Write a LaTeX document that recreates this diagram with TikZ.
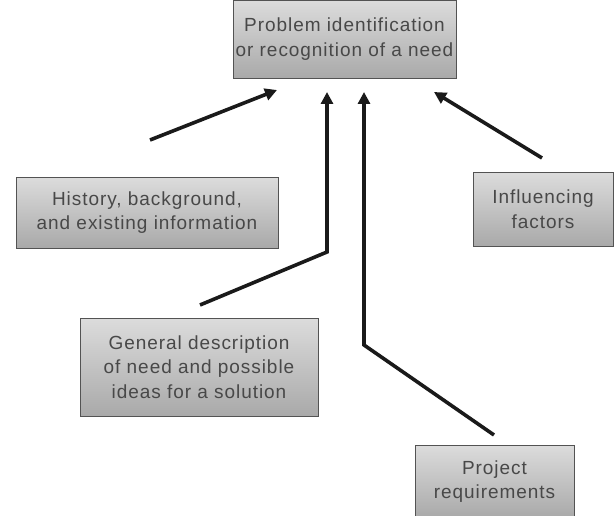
\documentclass[tikz,border=0pt]{standalone}
\usepackage{fontspec}
\setmainfont{Liberation Sans}[LetterSpace=5]
\usetikzlibrary{arrows.meta,positioning,calc}
\definecolor{Ink}{HTML}{1A1A1A}
\definecolor{BoxTop}{HTML}{DCDCDC}
\definecolor{BoxBot}{HTML}{A9A9A9}
\tikzset{
  stepbox/.style={draw=Ink!75,line width=0.6pt,top color=BoxTop,bottom color=BoxBot,
    align=center,text=Ink!80,inner sep=0pt,font=\fontsize{19}{24.5}\selectfont},
  flow/.style={draw=Ink,line width=3.6pt,-{Triangle[length=12pt,width=12pt]}}
}

\begin{document}
\begin{tikzpicture}[x=1pt,y=-1pt]
\useasboundingbox (0,0) rectangle (615,516);
% boxes
\node[stepbox,minimum width=223pt,minimum height=78pt] (need) at (344.5,39) {Problem identification\\or recognition of a need};
\node[stepbox,minimum width=262pt,minimum height=71pt] (hist) at (147,212.5) {History, background,\\and existing information};
\node[stepbox,minimum width=140pt,minimum height=74pt] (infl) at (543,209) {Influencing\\factors};
\node[stepbox,minimum width=238pt,minimum height=98pt] (gen) at (199,367) {General description\\of need and possible\\ideas for a solution};
\node[stepbox,minimum width=159pt,minimum height=73pt] (proj) at (494.5,481.5) {Project\\requirements};
% arrow ends
\coordinate (histtail) at (150,140);
\coordinate (histhead) at (277,90);
\coordinate (gentail) at (200,305);
\coordinate (genbend) at (327,252);
\coordinate (genhead) at (327,92);
\coordinate (projtail) at (494,435);
\coordinate (projbend) at (364,345);
\coordinate (projhead) at (364,92);
\coordinate (infltail) at (542,158);
\coordinate (inflhead) at (434,92);
% arrows
\draw[flow] (histtail) -- (histhead);
\draw[flow] (gentail) -- (genbend) -- (genhead);
\draw[flow] (projtail) -- (projbend) -- (projhead);
\draw[flow] (infltail) -- (inflhead);
\end{tikzpicture}
\end{document}
